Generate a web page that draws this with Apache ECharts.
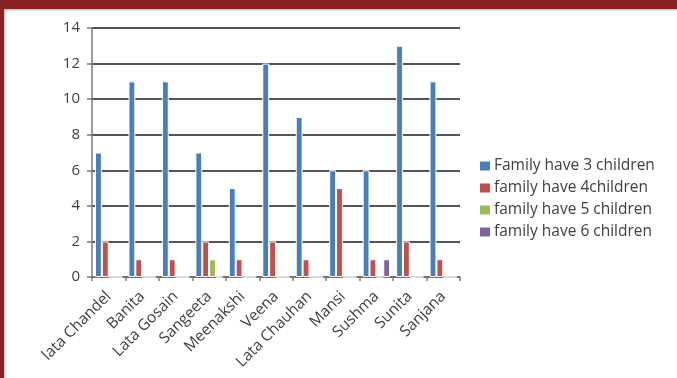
<!DOCTYPE html>
<html><head><meta charset="utf-8">
<script src="https://cdn.jsdelivr.net/npm/echarts@6/dist/echarts.min.js"></script>
<style>html,body{margin:0;padding:0;background:#fff}#c{width:677px;height:378px}</style>
</head><body><div id="c"></div>
<script>
const categories = ['lata Chandel','Banita','Lata Gosain','Sangeeta','Meenakshi','Veena','Lata Chauhan','Mansi','Sushma','Sunita','Sanjana'];
const seriesNames = ['Family have 3 children','family have 4children','family have 5 children','family have 6 children'];
const family3 = [7, 11, 11, 7, 5, 12, 9, 6, 6, 13, 11];
const family4 = [2, 1, 1, 2, 1, 2, 1, 5, 1, 2, 1];
const family5 = [0, 0, 0, 1, 0, 0, 0, 0, 0, 0, 0];
const family6 = [0, 0, 0, 0, 0, 0, 0, 0, 1, 0, 0];
const yTicks = [0, 2, 4, 6, 8, 10, 12, 14];
const colors = ['#4A7EBB', '#C0504D', '#9BBB59', '#8064A2'];

const font = '"Open Sans", Lato, sans-serif';
const chart = echarts.init(document.getElementById('c'), null, {renderer: 'canvas'});
const values = [family3, family4, family5, family6];
chart.setOption({
  animation: false,
  backgroundColor: '#fff',
  color: colors,
  graphic: [
    {type: 'rect', left: 0, top: 0, shape: {width: 677, height: 9}, style: {fill: '#882222'}},
    {type: 'rect', left: 0, top: 0, shape: {width: 4, height: 378}, style: {fill: '#882222'}},
    {type: 'rect', left: 4, top: 9, shape: {width: 673, height: 1.5}, style: {fill: '#c8c8c8'}},
    {type: 'rect', left: 4, top: 9, shape: {width: 1.5, height: 369}, style: {fill: '#c8c8c8'}}
  ],
  grid: {left: 92, right: 217, top: 28, bottom: 101, containLabel: false},
  legend: {
    orient: 'vertical', left: 478, top: 158, padding: 0, itemWidth: 12, itemHeight: 11, itemGap: 6,
    icon: 'rect',
    textStyle: {fontFamily: font, fontSize: 15.5, color: '#404040', padding: [0, 0, 0, -2]},
    data: seriesNames
  },
  xAxis: {
    type: 'category', data: categories,
    axisLine: {show: true, lineStyle: {color: '#7a7a7a', width: 1.5}},
    axisTick: {show: true, alignWithLabel: false, length: 4, lineStyle: {color: '#7a7a7a', width: 1.5}},
    axisLabel: {rotate: 45, interval: 0, margin: 17, fontFamily: font, fontSize: 15.5, color: '#404040'}
  },
  yAxis: {
    type: 'value', min: yTicks[0], max: yTicks[yTicks.length - 1], interval: 2,
    axisLine: {show: true, lineStyle: {color: '#7a7a7a', width: 1.5}},
    axisTick: {show: true, length: 5, lineStyle: {color: '#7a7a7a', width: 1.5}},
    axisLabel: {margin: 12, fontFamily: font, fontSize: 15, color: '#404040'},
    splitLine: {show: true, lineStyle: {color: '#555', width: 2}}
  },
  series: seriesNames.map((n, i) => ({
    name: n, type: 'bar', data: values[i],
    barGap: '0%', barCategoryGap: '18%',
    itemStyle: {borderColor: '#fff', borderWidth: 1}
  }))
});
</script></body></html>
